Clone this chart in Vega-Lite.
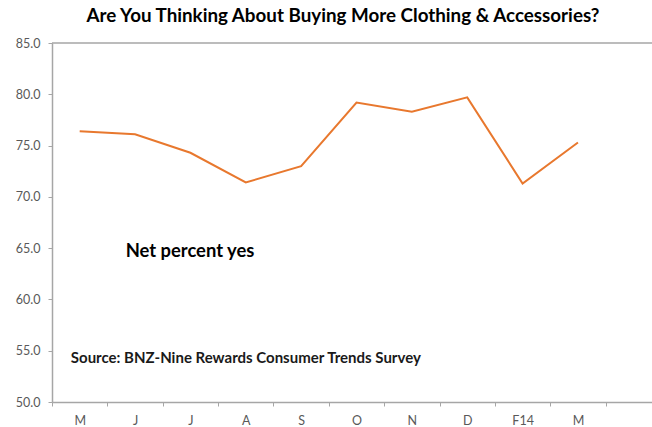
{
  "$schema": "https://vega.github.io/schema/vega-lite/v6.json",
  "width": 600,
  "height": 359,
  "autosize": {"type": "none"},
  "padding": {"left": 52, "right": 0, "top": 43, "bottom": 25},
  "background": "white",
  "config": {
    "view": {"stroke": null},
    "font": "Lato"
  },
  "title": {
    "text": "Are You Thinking About Buying More Clothing & Accessories?",
    "font": "Lato",
    "fontSize": 18.8,
    "fontWeight": "bold",
    "color": "#000000",
    "anchor": "middle",
    "dx": -9,
    "offset": 11
  },
  "data": {
    "values": [
      {"period": "May 2013", "value": 76.4},
      {"period": "Jun 2013", "value": 76.1},
      {"period": "Jul 2013", "value": 74.3},
      {"period": "Aug 2013", "value": 71.4},
      {"period": "Sep 2013", "value": 73.0},
      {"period": "Oct 2013", "value": 79.2},
      {"period": "Nov 2013", "value": 78.3},
      {"period": "Dec 2013", "value": 79.7},
      {"period": "Feb 2014", "value": 71.3},
      {"period": "Mar 2014", "value": 75.3}
    ]
  },
  "layer": [
    {
      "mark": {"type": "line", "color": "#E8782E", "strokeWidth": 2},
      "encoding": {
        "x": {
          "field": "period",
          "type": "ordinal",
          "sort": null,
          "scale": {
            "type": "band",
            "domain": ["May 2013", "Jun 2013", "Jul 2013", "Aug 2013", "Sep 2013", "Oct 2013", "Nov 2013", "Dec 2013", "Feb 2014", "Mar 2014", "Apr 2014"],
            "range": [0, 609],
            "paddingInner": 0,
            "paddingOuter": 0
          },
          "axis": {
            "title": null,
            "labelAngle": 0,
            "tickBand": "extent",
            "labelExpr": "(!datum.value || datum.value == 'Apr 2014') ? '' : (datum.value == 'Feb 2014' ? 'F14' : substring(datum.value, 0, 1))",
            "labelFont": "Lato",
            "labelFontSize": 12.5,
            "labelColor": "#595959",
            "labelPadding": 8,
            "tickSize": 4,
            "tickColor": "#A6A6A6",
            "domainColor": "#A6A6A6",
            "domainWidth": 1.5,
            "grid": false
          }
        },
        "y": {
          "field": "value",
          "type": "quantitative",
          "scale": {"domain": [50, 85], "nice": false, "zero": false},
          "axis": {
            "title": null,
            "values": [50, 55, 60, 65, 70, 75, 80, 85],
            "format": ".1f",
            "labelFont": "Lato",
            "labelFontSize": 12.5,
            "labelColor": "#595959",
            "labelPadding": 8,
            "tickSize": 4,
            "tickColor": "#A6A6A6",
            "domainColor": "#A6A6A6",
            "domainWidth": 1.5,
            "grid": false
          }
        }
      }
    },
    {
      "transform": [{"filter": "datum.period == 'May 2013'"}],
      "mark": {"type": "rule", "color": "#A6A6A6", "strokeWidth": 1.5},
      "encoding": {"y": {"datum": 85}}
    },
    {
      "transform": [{"filter": "datum.period == 'May 2013'"}],
      "mark": {"type": "text", "text": "Net percent yes", "font": "Lato", "fontSize": 18.4, "fontWeight": "bold", "color": "#000000", "align": "left", "baseline": "middle"},
      "encoding": {
        "x": {"datum": "Jun 2013", "bandPosition": 0.33},
        "y": {"datum": 64.7}
      }
    },
    {
      "transform": [{"filter": "datum.period == 'May 2013'"}],
      "mark": {"type": "text", "text": "Source: BNZ-Nine Rewards Consumer Trends Survey", "font": "Lato", "fontSize": 15, "fontWeight": "bold", "color": "#1A1A1A", "align": "left", "baseline": "middle"},
      "encoding": {
        "x": {"datum": "May 2013", "bandPosition": 0.34},
        "y": {"datum": 54.3}
      }
    }
  ]
}
